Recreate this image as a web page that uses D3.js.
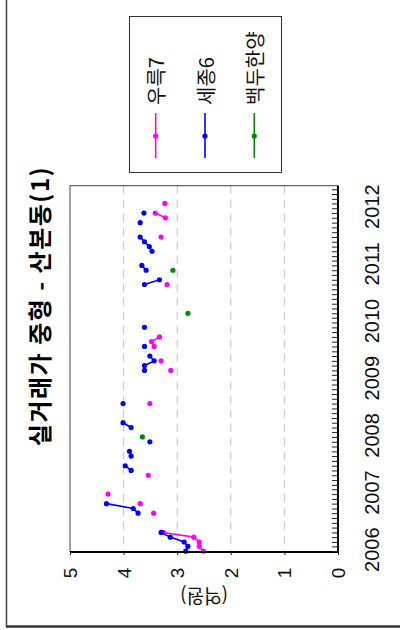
<!DOCTYPE html>
<html><head><meta charset="utf-8">
<script src="https://cdn.jsdelivr.net/npm/d3@7"></script>
<style>body{margin:0;background:#fff} svg{display:block}</style>
</head><body><svg id="c" width="400" height="630"></svg>
<script>
const titleText = "실거래가 중형 - 산본동(1)";
const valueLabel = "(억원)";
const seriesNames = ["우륵7", "세종6", "백두한양"];
const seriesColors = ["#ff00ff", "#0000ff", "#008b00"];
const valueTicks = [0, 1, 2, 3, 4, 5];
const gridValues = [1, 2, 3, 4];

const uruk7Dates = ["2006-01","2006-02","2006-03","2006-04","2006-05","2006-09","2006-11","2007-01","2007-05","2008-08","2009-03","2009-05","2009-08","2009-09","2009-10","2010-09","2011-07","2011-11","2011-12","2012-02"];
const uruk7Values = [2.51,2.59,2.59,2.69,3.26,3.44,3.69,4.29,3.54,3.51,3.12,3.30,3.43,3.48,3.33,3.19,3.30,3.22,3.41,3.23];

const sejong6Dates = ["2006-01","2006-02","2006-03","2006-04","2006-05","2006-09","2006-10","2006-11","2007-06","2007-07","2007-09","2007-10","2007-12","2008-03","2008-04","2008-08","2009-03","2009-04","2009-05","2009-06","2009-08","2009-12","2010-09","2010-10","2010-12","2011-01","2011-04","2011-05","2011-06","2011-07","2011-10","2011-12"];
const sejong6Values = [2.84,2.80,2.87,3.13,3.30,3.73,3.82,4.32,3.86,3.97,3.86,3.89,3.51,3.86,4.01,4.01,3.61,3.61,3.43,3.51,3.61,3.61,3.61,3.33,3.58,3.66,3.47,3.52,3.61,3.69,3.69,3.62];

const baekduDates = ["2008-01","2010-03","2010-12"];
const baekduValues = [3.65,2.80,3.08];

const parse = d3.timeParse("%Y-%m");
const series = [
  {dates: uruk7Dates, values: uruk7Values},
  {dates: sejong6Dates, values: sejong6Values},
  {dates: baekduDates, values: baekduValues}
].map((s, i) => ({
  name: seriesNames[i], color: seriesColors[i],
  pts: s.dates.map((d, j) => ({date: parse(d), v: s.values[j]}))
}));

const svg = d3.select("#c");
const L = 70, R = 338, T = 185.7, B = 552;

const x = d3.scaleLinear().domain([0, 5]).range([R, L]);
const y = d3.scaleTime().domain([new Date(2005, 11, 27), new Date(2012, 4, 24)]).range([B, T]);

// outer frame
svg.append("line").attr("x1", 6.5).attr("x2", 6.5).attr("y1", 0).attr("y2", 627)
  .attr("stroke", "#444").attr("stroke-width", 1.5);
svg.append("line").attr("x1", 6).attr("x2", 400).attr("y1", 626.5).attr("y2", 626.5)
  .attr("stroke", "#333").attr("stroke-width", 2.5);

// grid
svg.append("g").selectAll("line").data(gridValues).join("line")
  .attr("x1", d => x(d)).attr("x2", d => x(d)).attr("y1", T).attr("y2", B)
  .attr("stroke", "#c4c4c4").attr("stroke-width", 1).attr("stroke-dasharray", "8,6");

// lines (break where months are not consecutive)
const line = d3.line().x(d => x(d.v)).y(d => y(d.date));
series.forEach(s => {
  const segs = [];
  let cur = [];
  s.pts.forEach((p, i) => {
    if (i > 0 && d3.timeMonth.count(s.pts[i - 1].date, p.date) > 1) { segs.push(cur); cur = []; }
    cur.push(p);
  });
  segs.push(cur);
  svg.append("g").selectAll("path").data(segs.filter(g => g.length > 1)).join("path")
    .attr("d", line).attr("fill", "none").attr("stroke", s.color).attr("stroke-width", 1.6);
  svg.append("g").selectAll("circle").data(s.pts).join("circle")
    .attr("cx", d => x(d.v)).attr("cy", d => y(d.date)).attr("r", 2.6).attr("fill", s.color);
});

// box
svg.append("rect").attr("x", L).attr("y", T).attr("width", R - L).attr("height", B - T)
  .attr("fill", "none").attr("stroke", "#444").attr("stroke-width", 1);
svg.append("line").attr("x1", R).attr("x2", R).attr("y1", T).attr("y2", B + 1)
  .attr("stroke", "#000").attr("stroke-width", 2);
svg.append("line").attr("x1", L).attr("x2", R + 1).attr("y1", B).attr("y2", B)
  .attr("stroke", "#000").attr("stroke-width", 2);

// monthly minor ticks (inward)
const mt = svg.append("g").attr("transform", `translate(${R},0)`)
  .call(d3.axisLeft(y).ticks(d3.timeMonth.every(1)).tickSize(6).tickFormat(""));
mt.select(".domain").remove();
mt.selectAll(".tick line").attr("stroke", "#222").attr("stroke-width", 1);

// year labels
const ya = svg.append("g").attr("transform", `translate(${R},0)`)
  .call(d3.axisRight(y).ticks(d3.timeYear.every(1)).tickSize(0).tickFormat(d3.timeFormat("%Y")));
ya.select(".domain").remove();
ya.selectAll(".tick text")
  .attr("x", null).attr("dy", null)
  .attr("transform", "translate(34,-2) rotate(-90)")
  .attr("text-anchor", "middle").attr("dominant-baseline", "central")
  .attr("font-family", "Liberation Sans, Arial, sans-serif").attr("font-size", 20).attr("fill", "#111");

// value axis
const xa = svg.append("g").attr("transform", `translate(0,${B})`)
  .call(d3.axisBottom(x).tickValues(valueTicks).tickSize(3).tickFormat(d3.format("d")));
xa.select(".domain").remove();
xa.selectAll(".tick line").attr("stroke", "#222");
xa.selectAll(".tick text")
  .attr("y", null).attr("dy", null)
  .attr("transform", "translate(0,21) rotate(-90)")
  .attr("text-anchor", "middle").attr("dominant-baseline", "central")
  .attr("font-family", "Liberation Sans, Arial, sans-serif").attr("font-size", 19).attr("fill", "#111");

svg.append("text").attr("transform", `translate(${(L + R) / 2},597) rotate(180)`)
  .attr("text-anchor", "middle").attr("dominant-baseline", "central")
  .attr("font-family", "Noto Sans CJK KR, sans-serif").attr("font-size", 19).attr("fill", "#111")
  .text(valueLabel);

// title
svg.append("text").attr("transform", "translate(38,306) rotate(-90)")
  .attr("text-anchor", "middle").attr("dominant-baseline", "central")
  .attr("font-family", "Noto Sans CJK KR, sans-serif").attr("font-weight", "bold").attr("font-size", 24)
  .attr("letter-spacing", 1.5).attr("fill", "#000")
  .text(titleText);

// legend
svg.append("rect").attr("x", 129.5).attr("y", 16.5).attr("width", 152).attr("height", 156)
  .attr("fill", "#fff").attr("stroke", "#333").attr("stroke-width", 1);
const legX = [155.7, 205, 254.3];
series.forEach((s, i) => {
  const g = svg.append("g");
  g.append("line").attr("x1", legX[i]).attr("x2", legX[i]).attr("y1", 113).attr("y2", 158)
    .attr("stroke", s.color).attr("stroke-width", 1.6);
  g.append("circle").attr("cx", legX[i]).attr("cy", 136).attr("r", 2.6).attr("fill", s.color);
  g.append("text").attr("transform", `translate(${legX[i]},105) rotate(-90)`)
    .attr("text-anchor", "start").attr("dominant-baseline", "central")
    .attr("font-family", "Noto Sans CJK KR, sans-serif").attr("font-size", 20).attr("fill", "#111")
    .text(s.name);
});
</script></body></html>
